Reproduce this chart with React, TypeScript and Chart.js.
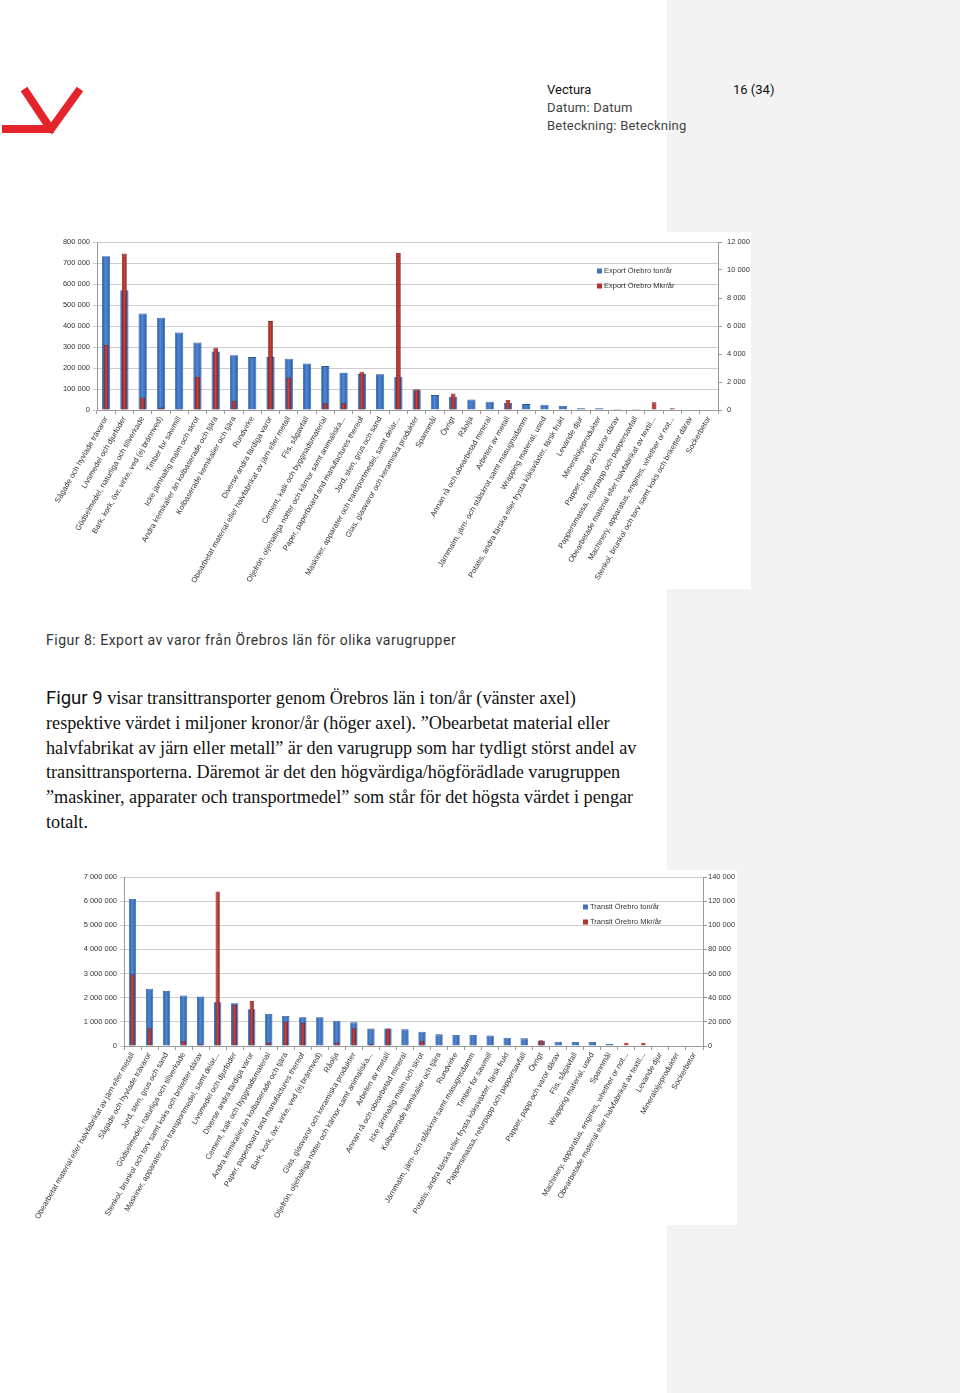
import React, { useEffect, useRef } from "react";
import { Chart, registerables } from "chart.js";
Chart.register(...registerables);

// ---------- DATA ----------
const exportCategories = [
  "Sågade och hyvlade trävaror",
  "Livsmedel och djurfoder",
  "Gödselmedel, naturliga och tillverkade",
  "Bark, kork, övr. virke, ved (ej brännved)",
  "Timber for sawmill",
  "Icke järnhaltig malm och skrot",
  "Andra kemikalier än kolbaserade och tjära",
  "Kolbaserade kemikalier och tjära",
  "Rundvirke",
  "Diverse andra färdiga varor",
  "Obearbetat material eller halvfabrikat av järn eller metall",
  "Flis, sågavfall",
  "Cement, kalk och byggnadsmaterial",
  "Oljefrön, oljehaltiga nötter och kärnor samt animaliska...",
  "Paper, paperboard and manufactures thereof",
  "Jord, sten, grus och sand",
  "Maskiner, apparater och transportmedel, samt delar...",
  "Glas, glasvaror och keramiska produkter",
  "Spannmål",
  "Övrigt",
  "Råolja",
  "Annan rå och obearbetad mineral",
  "Arbeten av metall",
  "Järnmalm, järn- och stålskrot samt masugnsdamm",
  "Wrapping material, used",
  "Potatis, andra färska eller frysta köksväxter, färsk frukt",
  "Levande djur",
  "Mineraloljeprodukter",
  "Papper, papp och varor därav",
  "Pappersmassa, returpapp och pappersavfall",
  "Obearbetade material eller halvfabrikat av textil...",
  "Machinery, apparatus, engines, whether or not...",
  "Stenkol, brunkol och torv samt koks och briketter därav",
  "Sockerbetor",
];
const exportTons = [
  732000, 570000, 460000, 439000, 369000, 322000, 279000, 261000, 252000, 252000,
  244000, 222000, 209000, 177000, 171000, 170000, 158000, 98000, 71000, 63000,
  50000, 39000, 35000, 28000, 25000, 19000, 8000, 8000, 5000, 5000, 0, 0, 0, 0,
];
const exportMkr = [
  4640, 11170, 900, 170, 70, 2380, 4450, 660, 0, 6350,
  2330, 60, 480, 480, 2730, 0, 11220, 1470, 0, 1180,
  0, 0, 710, 0, 0, 0, 0, 0, 0, 0, 545, 120, 0, 0,
];

const transitCategories = [
  "Obearbetat material eller halvfabrikat av järn eller metall",
  "Sågade och hyvlade trävaror",
  "Jord, sten, grus och sand",
  "Gödselmedel, naturliga och tillverkade",
  "Stenkol, brunkol och torv samt koks och briketter därav",
  "Maskiner, apparater och transportmedel, samt delar...",
  "Livsmedel och djurfoder",
  "Diverse andra färdiga varor",
  "Cement, kalk och byggnadsmaterial",
  "Andra kemikalier än kolbaserade och tjära",
  "Paper, paperboard and manufactures thereof",
  "Bark, kork, övr. virke, ved (ej brännved)",
  "Råolja",
  "Glas, glasvaror och keramiska produkter",
  "Oljefrön, oljehaltiga nötter och kärnor samt animaliska...",
  "Arbeten av metall",
  "Annan rå och obearbetad mineral",
  "Icke järnhaltig malm och skrot",
  "Kolbaserade kemikalier och tjära",
  "Rundvirke",
  "Järnmalm, järn- och stålskrot samt masugnsdamm",
  "Timber for sawmill",
  "Potatis, andra färska eller frysta köksväxter, färsk frukt",
  "Pappersmassa, returpapp och pappersavfall",
  "Övrigt",
  "Papper, papp och varor därav",
  "Flis, sågavfall",
  "Wrapping material, used",
  "Spannmål",
  "Machinery, apparatus, engines, whether or not...",
  "Obearbetade material eller halvfabrikat av textil...",
  "Levande djur",
  "Mineraloljeprodukter",
  "Sockerbetor",
];
const transitTons = [
  6090000, 2370000, 2280000, 2090000, 2050000, 1810000, 1770000, 1520000, 1330000, 1240000,
  1190000, 1190000, 1050000, 980000, 730000, 720000, 690000, 592000, 482000, 455000,
  455000, 440000, 344000, 317000, 220000, 179000, 165000, 165000, 83000, 0, 0, 0, 0, 0,
];
const transitMkr = [
  59400, 15200, 0, 4150, 1400, 128000, 34000, 37300, 2800, 20200,
  19400, 0, 2800, 14700, 1400, 14500, 0, 4400, 0, 0,
  0, 0, 0, 0, 4700, 0, 0, 0, 0, 2750, 2500, 0, 0, 0,
];

const exportLegend = ["Export Örebro ton/år", "Export Örebro Mkr/år"];
const transitLegend = ["Transit Örebro ton/år", "Transit Örebro Mkr/år"];

const exportLeftAxis = { max: 800000, step: 100000 };
const exportRightAxis = { max: 12000, step: 2000 };
const transitLeftAxis = { max: 7000000, step: 1000000 };
const transitRightAxis = { max: 140000, step: 20000 };

// ---------- STYLE ----------
const BLUE = "#3b74c2";
const BLUE_EDGE = "#2a5a9e";
const BLUE_MID = "#4f88d8";
const BLUE_BORDER = "#2a5794";
const RED = "#b8302d";
const RED_EDGE = "#8c1f1e";
const RED_MID = "#cc423b";
const RED_BORDER = "#7e1b1a";
const CHART_FONT = "'Liberation Sans', Arial, sans-serif";

function fmt(v: number): string {
  return String(v).replace(/\B(?=(\d{3})+(?!\d))/g, " ");
}

function barGradient(edge: string, mid: string, fallback: string, frac: number) {
  return (c: any) => {
    const chart = c.chart;
    const xs = chart.scales && chart.scales.x;
    if (!xs || !chart.chartArea || c.dataIndex === undefined) return fallback;
    const n = chart.data.labels.length;
    const cx = xs.getPixelForValue(c.dataIndex);
    const w = (xs.width / n) * frac;
    if (!isFinite(cx) || !isFinite(w) || w <= 0) return fallback;
    const g = chart.ctx.createLinearGradient(cx - w / 2, 0, cx + w / 2, 0);
    g.addColorStop(0, edge);
    g.addColorStop(0.45, mid);
    g.addColorStop(1, edge);
    return g;
  };
}

const legendPlugin = {
  id: "customLegend",
  afterDraw(chart: any, _args: any, opts: any) {
    if (!opts || !opts.items) return;
    const ctx = chart.ctx;
    ctx.save();
    ctx.font = `7.5px ${CHART_FONT}`;
    ctx.textBaseline = "middle";
    opts.items.forEach((it: any, i: number) => {
      const y = opts.y + i * 15;
      ctx.fillStyle = it.color;
      ctx.fillRect(opts.x, y - 2.5, 5, 5);
      ctx.fillStyle = "#333";
      ctx.fillText(it.label, opts.x + 7, y);
    });
    ctx.restore();
  },
};

type Props = {
  categories: string[];
  tons: number[];
  mkr: number[];
  legend: string[];
  left: { max: number; step: number };
  right: { max: number; step: number };
  width: number;
  height: number;
  leftW: number;
  rightW: number;
  rightPad: number;
  top: number;
  xH: number;
  legendX: number;
  legendY: number;
  blueFrac: number;
  redFrac: number;
};

function DualBarChart(p: Props) {
  const ref = useRef<HTMLCanvasElement | null>(null);
  useEffect(() => {
    if (!ref.current) return;
    const chart = new Chart(ref.current, {
      type: "bar",
      data: {
        labels: p.categories,
        datasets: [
          {
            label: p.legend[0],
            data: p.tons,
            yAxisID: "yL",
            backgroundColor: barGradient(BLUE_EDGE, BLUE_MID, BLUE, p.blueFrac),
            borderColor: BLUE_BORDER,
            borderWidth: 0.8,
            barPercentage: p.blueFrac,
            categoryPercentage: 1,
            grouped: false,
            order: 2,
          },
          {
            label: p.legend[1],
            data: p.mkr,
            yAxisID: "yR",
            backgroundColor: barGradient(RED_EDGE, RED_MID, RED, p.redFrac),
            borderColor: RED_BORDER,
            borderWidth: 0.8,
            barPercentage: p.redFrac,
            categoryPercentage: 1,
            grouped: false,
            order: 1,
          },
        ],
      },
      options: {
        animation: false,
        responsive: false,
        maintainAspectRatio: false,
        layout: { padding: { top: p.top, left: 0, right: 0, bottom: 0 } },
        plugins: {
          legend: { display: false },
          tooltip: { enabled: false },
          customLegend: {
            x: p.legendX,
            y: p.legendY,
            items: [
              { label: p.legend[0], color: BLUE },
              { label: p.legend[1], color: RED },
            ],
          },
        } as any,
        scales: {
          x: {
            offset: true,
            grid: {
              display: true,
              drawOnChartArea: false,
              drawTicks: true,
              tickLength: 4,
              color: "#9a9a9a",
              offset: true,
            },
            border: { color: "#9a9a9a" },
            ticks: {
              autoSkip: false,
              minRotation: 60,
              maxRotation: 60,
              padding: 1,
              color: "#333",
              font: { size: 7.7, family: CHART_FONT },
            },
            afterFit(s: any) {
              s.height = p.xH;
              s.paddingLeft = 0;
              s.paddingRight = 0;
            },
          },
          yL: {
            position: "left",
            min: 0,
            max: p.left.max,
            grid: { color: "#cdcdcd", tickLength: 4 },
            border: { color: "#9a9a9a" },
            ticks: {
              stepSize: p.left.step,
              padding: 3,
              color: "#333",
              font: { size: 7.5, family: CHART_FONT },
              callback: (v: any) => fmt(Number(v)),
            },
            afterFit(s: any) {
              s.width = p.leftW;
              s.paddingTop = 0;
              s.paddingBottom = 0;
            },
          },
          yR: {
            position: "right",
            min: 0,
            max: p.right.max,
            grid: { drawOnChartArea: false, tickLength: 4, color: "#9a9a9a" },
            border: { color: "#9a9a9a" },
            ticks: {
              stepSize: p.right.step,
              padding: p.rightPad,
              color: "#333",
              font: { size: 7.5, family: CHART_FONT },
              callback: (v: any) => fmt(Number(v)),
            },
            afterFit(s: any) {
              s.width = p.rightW;
              s.paddingTop = 0;
              s.paddingBottom = 0;
            },
          },
        },
      } as any,
      plugins: [legendPlugin],
    });
    return () => chart.destroy();
  }, []);
  return (
    <canvas
      ref={ref}
      width={p.width}
      height={p.height}
      style={{ display: "block", width: p.width, height: p.height }}
    />
  );
}

function Logo() {
  return (
    <svg
      width={90}
      height={55}
      style={{ position: "absolute", left: 0, top: 84 }}
      viewBox="0 0 90 55"
    >
      <g fill="none" stroke="#e3242b" strokeWidth={8} strokeLinecap="butt">
        <line x1={2} y1={45} x2={54} y2={45} />
        <line x1={24} y1={5} x2={50} y2={44} />
        <line x1={80} y1={5} x2={49} y2={48} />
      </g>
    </svg>
  );
}

export default function App() {
  const sans = "Roboto, 'Liberation Sans', sans-serif";
  const serif = "'Liberation Serif', 'Times New Roman', serif";
  const paraLines: React.ReactNode[] = [
    <>
      <span style={{ fontFamily: sans, fontSize: 18.5 }}>Figur 9</span> visar transittransporter genom Örebros län i ton/år (vänster axel)
    </>,
    <>respektive värdet i miljoner kronor/år (höger axel). ”Obearbetat material eller</>,
    <>halvfabrikat av järn eller metall” är den varugrupp som har tydligt störst andel av</>,
    <>transittransporterna. Däremot är det den högvärdiga/högförädlade varugruppen</>,
    <>”maskiner, apparater och transportmedel” som står för det högsta värdet i pengar</>,
    <>totalt.</>,
  ];
  return (
    <div
      style={{
        position: "absolute",
        left: 0,
        top: 0,
        width: 960,
        height: 1393,
        background: "#fff",
        overflow: "hidden",
      }}
    >
      <div
        style={{
          position: "absolute",
          left: 667,
          top: 0,
          width: 293,
          height: 1393,
          background: "#f3f3f3",
        }}
      />
      <Logo />
      <div
        style={{
          position: "absolute",
          left: 547,
          top: 81,
          fontFamily: sans,
          fontSize: 13,
          lineHeight: "18px",
          color: "#444",
          whiteSpace: "nowrap",
          letterSpacing: 0.2,
        }}
      >
        <div style={{ color: "#111", letterSpacing: 0 }}>Vectura</div>
        <div>Datum: Datum</div>
        <div>Beteckning: Beteckning</div>
      </div>
      <div
        style={{
          position: "absolute",
          left: 733,
          top: 81,
          fontFamily: sans,
          fontSize: 13,
          lineHeight: "18px",
          color: "#111",
        }}
      >
        16 (34)
      </div>

      <div style={{ position: "absolute", left: 40, top: 232, background: "#fff" }}>
        <DualBarChart
          categories={exportCategories}
          tons={exportTons}
          mkr={exportMkr}
          legend={exportLegend}
          left={exportLeftAxis}
          right={exportRightAxis}
          width={711}
          height={357}
          leftW={57}
          rightW={33}
          rightPad={5}
          top={10}
          xH={179}
          legendX={557}
          legendY={39}
          blueFrac={0.45}
          redFrac={0.26}
        />
      </div>

      <div
        style={{
          position: "absolute",
          left: 46,
          top: 631,
          fontFamily: sans,
          fontSize: 14,
          letterSpacing: 0.5,
          lineHeight: "18px",
          color: "#333",
          whiteSpace: "nowrap",
        }}
      >
        Figur 8: Export av varor från Örebros län för olika varugrupper
      </div>

      <div
        style={{
          position: "absolute",
          left: 46,
          top: 686,
          fontFamily: serif,
          fontSize: 18.2,
          lineHeight: "24.8px",
          color: "#111",
          whiteSpace: "nowrap",
        }}
      >
        {paraLines.map((l, i) => (
          <div key={i}>{l}</div>
        ))}
      </div>

      <div style={{ position: "absolute", left: 30, top: 870, background: "#fff" }}>
        <DualBarChart
          categories={transitCategories}
          tons={transitTons}
          mkr={transitMkr}
          legend={transitLegend}
          left={transitLeftAxis}
          right={transitRightAxis}
          width={707}
          height={355}
          leftW={94}
          rightW={34}
          rightPad={1}
          top={7}
          xH={179}
          legendX={553}
          legendY={37}
          blueFrac={0.43}
          redFrac={0.25}
        />
      </div>
    </div>
  );
}
